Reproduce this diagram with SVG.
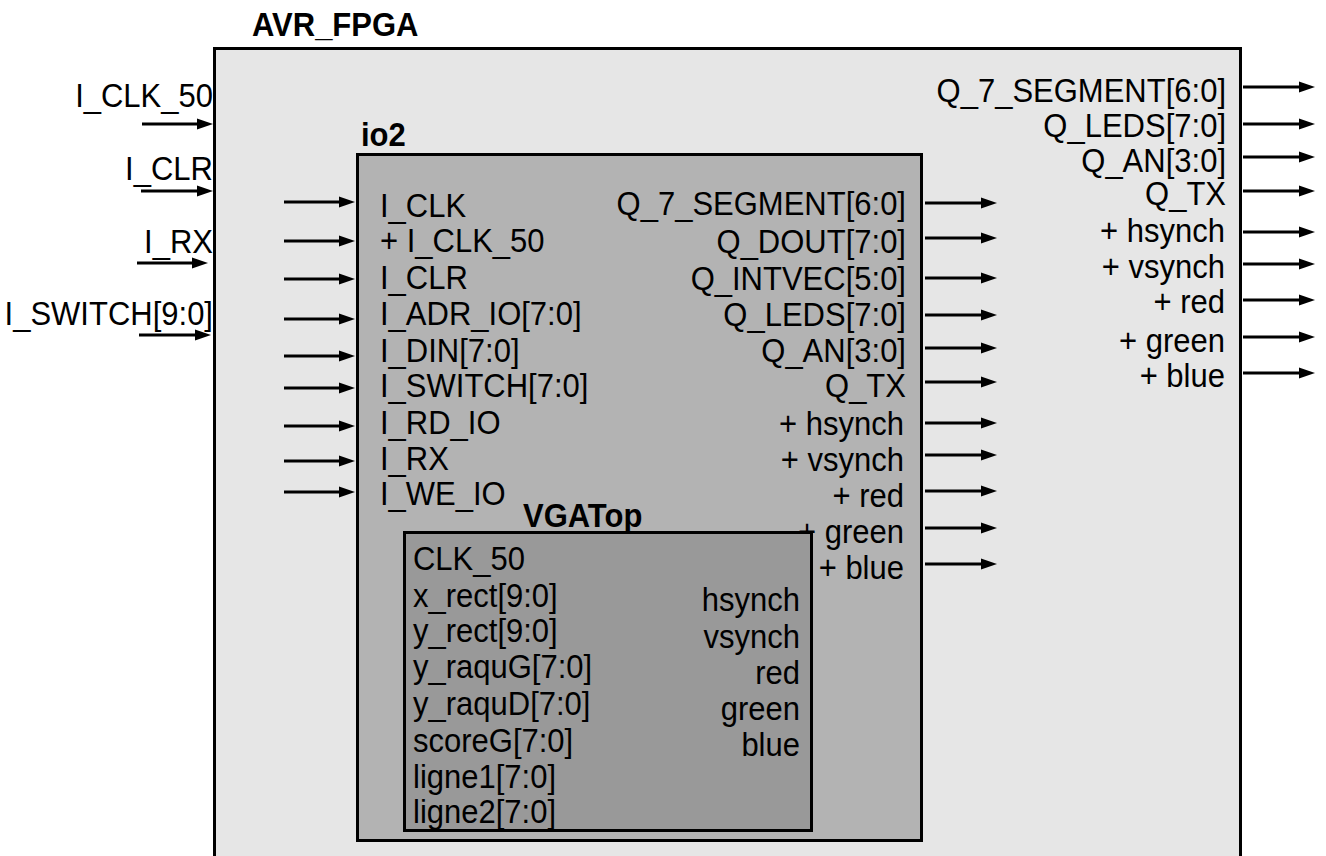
<svg xmlns="http://www.w3.org/2000/svg" width="1326" height="856" viewBox="0 0 1326 856">
<style>
text{font-family:"Liberation Sans",Arial,sans-serif;font-size:31px;fill:#000;transform-box:fill-box;transform-origin:0 81%;transform:scaleY(1.055)}
.b{font-weight:bold}
.e{text-anchor:end}
.box{stroke:#000;stroke-width:3}
.c line{stroke:#000;stroke-width:3;marker-end:url(#ah)}
</style>
<defs>
<marker id="ah" markerUnits="userSpaceOnUse" markerWidth="16" markerHeight="12" refX="6" refY="6" orient="auto">
<path d="M0,0.5 L16,6 L0,11.5 z" fill="#000"/>
</marker>
</defs>
<rect width="1326" height="856" fill="#fff"/>
<g id="AVR_FPGA">
<rect class="box" x="214.5" y="48.5" width="1026" height="830" fill="#e6e6e6"/>
<text class="b" x="252" y="36">AVR_FPGA</text>
<text class="e" x="213" y="107">I_CLK_50</text>
<text class="e" x="213" y="180">I_CLR</text>
<text class="e" x="213" y="253">I_RX</text>
<text class="e" x="213" y="325">I_SWITCH[9:0]</text>
<text class="e" x="1226" y="102">Q_7_SEGMENT[6:0]</text>
<text class="e" x="1226" y="137">Q_LEDS[7:0]</text>
<text class="e" x="1226" y="172">Q_AN[3:0]</text>
<text class="e" x="1226" y="205">Q_TX</text>
<text class="e" x="1225" y="242">+ hsynch</text>
<text class="e" x="1225" y="278">+ vsynch</text>
<text class="e" x="1225" y="313">+ red</text>
<text class="e" x="1225" y="352">+ green</text>
<text class="e" x="1225" y="387">+ blue</text>
</g>
<g id="io2">
<rect class="box" x="357.5" y="154.5" width="564" height="686" fill="#b3b3b3"/>
<text class="b" x="361" y="146">io2</text>
<text x="380" y="217">I_CLK</text>
<text x="380" y="252">+ I_CLK_50</text>
<text x="380" y="289">I_CLR</text>
<text x="380" y="325">I_ADR_IO[7:0]</text>
<text x="380" y="362">I_DIN[7:0]</text>
<text x="380" y="397">I_SWITCH[7:0]</text>
<text x="380" y="434">I_RD_IO</text>
<text x="380" y="470">I_RX</text>
<text x="380" y="505">I_WE_IO</text>
<text class="e" x="906" y="215">Q_7_SEGMENT[6:0]</text>
<text class="e" x="906" y="253">Q_DOUT[7:0]</text>
<text class="e" x="906" y="290">Q_INTVEC[5:0]</text>
<text class="e" x="906" y="326">Q_LEDS[7:0]</text>
<text class="e" x="906" y="362">Q_AN[3:0]</text>
<text class="e" x="906" y="397">Q_TX</text>
<text class="e" x="904" y="435">+ hsynch</text>
<text class="e" x="904" y="471">+ vsynch</text>
<text class="e" x="904" y="507">+ red</text>
<text class="e" x="904" y="543">+ green</text>
<text class="e" x="904" y="579">+ blue</text>
</g>
<g id="VGATop">
<rect class="box" x="404.5" y="532.5" width="407" height="298" fill="#999999"/>
<text class="b" x="523" y="527">VGATop</text>
<text x="413" y="570">CLK_50</text>
<text x="413" y="607">x_rect[9:0]</text>
<text x="413" y="642">y_rect[9:0]</text>
<text x="413" y="678">y_raquG[7:0]</text>
<text x="413" y="715">y_raquD[7:0]</text>
<text x="413" y="752">scoreG[7:0]</text>
<text x="413" y="788">ligne1[7:0]</text>
<text x="413" y="823">ligne2[7:0]</text>
<text class="e" x="800" y="611">hsynch</text>
<text class="e" x="800" y="648">vsynch</text>
<text class="e" x="800" y="684">red</text>
<text class="e" x="800" y="720">green</text>
<text class="e" x="800" y="756">blue</text>
</g>
<g id="connectors" class="c">
<line x1="142" y1="124" x2="203" y2="124"/>
<line x1="141" y1="191" x2="203" y2="191"/>
<line x1="137" y1="263" x2="198" y2="263"/>
<line x1="139" y1="335" x2="201" y2="335"/>
<line x1="284" y1="202" x2="345" y2="202"/>
<line x1="284" y1="241" x2="345" y2="241"/>
<line x1="284" y1="279" x2="345" y2="279"/>
<line x1="284" y1="319" x2="345" y2="319"/>
<line x1="284" y1="356" x2="345" y2="356"/>
<line x1="284" y1="388" x2="345" y2="388"/>
<line x1="284" y1="426" x2="345" y2="426"/>
<line x1="284" y1="461" x2="345" y2="461"/>
<line x1="284" y1="492" x2="345" y2="492"/>
<line x1="925" y1="203" x2="987" y2="203"/>
<line x1="925" y1="238" x2="987" y2="238"/>
<line x1="925" y1="278" x2="987" y2="278"/>
<line x1="925" y1="315" x2="987" y2="315"/>
<line x1="925" y1="348" x2="987" y2="348"/>
<line x1="925" y1="382" x2="987" y2="382"/>
<line x1="925" y1="423" x2="987" y2="423"/>
<line x1="925" y1="455" x2="987" y2="455"/>
<line x1="925" y1="491" x2="987" y2="491"/>
<line x1="925" y1="528" x2="987" y2="528"/>
<line x1="925" y1="564" x2="987" y2="564"/>
<line x1="1243" y1="87" x2="1305" y2="87"/>
<line x1="1243" y1="124" x2="1305" y2="124"/>
<line x1="1243" y1="157" x2="1305" y2="157"/>
<line x1="1243" y1="191" x2="1305" y2="191"/>
<line x1="1243" y1="232" x2="1305" y2="232"/>
<line x1="1243" y1="264" x2="1305" y2="264"/>
<line x1="1243" y1="300" x2="1305" y2="300"/>
<line x1="1243" y1="337" x2="1305" y2="337"/>
<line x1="1243" y1="373" x2="1305" y2="373"/>
</g>
</svg>
